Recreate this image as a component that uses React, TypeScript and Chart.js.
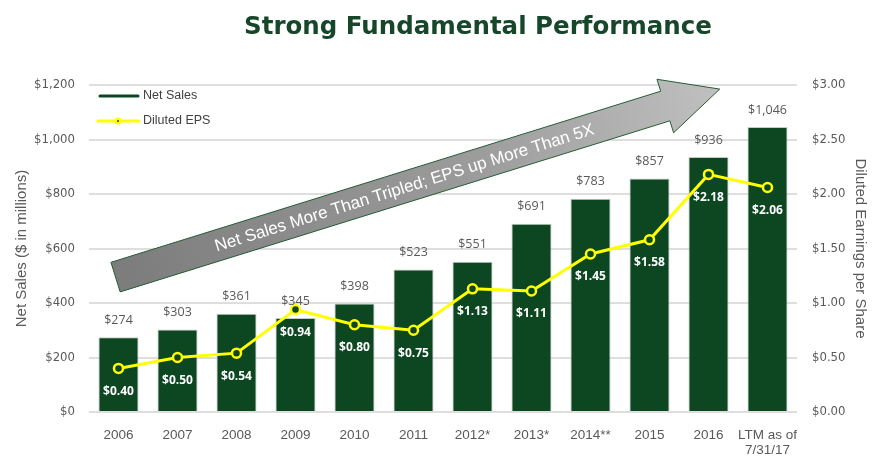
import React, { useEffect, useRef } from "react";
import { Chart, registerables } from "chart.js";

Chart.register(...registerables);

// ---- data ----
const categories: (string | string[])[] = [
  "2006", "2007", "2008", "2009", "2010", "2011",
  "2012*", "2013*", "2014**", "2015", "2016", ["LTM as of", "7/31/17"],
];
const netSales = [274, 303, 361, 345, 398, 523, 551, 691, 783, 857, 936, 1046];
const dilutedEps = [0.4, 0.5, 0.54, 0.94, 0.8, 0.75, 1.13, 1.11, 1.45, 1.58, 2.18, 2.06];
const salesTickValues = [0, 200, 400, 600, 800, 1000, 1200];
const epsTickValues = [0, 0.5, 1, 1.5, 2, 2.5, 3];

const titleText = "Strong Fundamental Performance";
const arrowText = "Net Sales More Than Tripled; EPS up More Than 5X";
// arrow anchors in data units (category index, net sales value)
const arrowTail = { index: -0.05, value: 495 };
const arrowTip = { index: 10.19, value: 1185 };

// ---- styles ----
const BAR_COLOR = "#0c4722";
const LINE_COLOR = "#ffff00";
const GRID_COLOR = "#dedede";
const TEXT_GRAY = "#595959";
const TITLE_COLOR = "#17472a";

const fmtSales = (v: number) => "$" + v.toLocaleString("en-US");
const fmtEps = (v: number) => "$" + v.toFixed(2);

const overlayPlugin = {
  id: "overlay",
  beforeDatasetsDraw(chart: any) {
    const ctx = chart.ctx as CanvasRenderingContext2D;
    const xs = chart.scales.x;
    const ys = chart.scales.y;
    const tx = xs.getPixelForValue(arrowTail.index);
    const ty = ys.getPixelForValue(arrowTail.value);
    const hx = xs.getPixelForValue(arrowTip.index);
    const hy = ys.getPixelForValue(arrowTip.value);
    const dx = hx - tx, dy = hy - ty;
    const L = Math.hypot(dx, dy);
    const ux = dx / L, uy = dy / L;
    const nx = -uy, ny = ux;
    const hw = 15.5, hh = 28, hl = 57;
    const bx = hx - ux * hl, by = hy - uy * hl;
    ctx.save();
    ctx.beginPath();
    ctx.moveTo(tx + nx * hw, ty + ny * hw);
    ctx.lineTo(bx + nx * hw, by + ny * hw);
    ctx.lineTo(bx + nx * hh, by + ny * hh);
    ctx.lineTo(hx, hy);
    ctx.lineTo(bx - nx * hh, by - ny * hh);
    ctx.lineTo(bx - nx * hw, by - ny * hw);
    ctx.lineTo(tx - nx * hw, ty - ny * hw);
    ctx.closePath();
    const g = ctx.createLinearGradient(tx, ty, hx, hy);
    g.addColorStop(0, "#7c7c7c");
    g.addColorStop(0.6, "#9c9c9c");
    g.addColorStop(1, "#c0c0c0");
    ctx.fillStyle = g;
    ctx.fill();
    ctx.lineWidth = 1;
    ctx.strokeStyle = "#245c36";
    ctx.stroke();
    // text
    const t = 0.478;
    ctx.translate(tx + dx * t, ty + dy * t);
    ctx.rotate(Math.atan2(dy, dx));
    ctx.fillStyle = "#ffffff";
    ctx.font = '17px "Liberation Sans", Arial, sans-serif';
    ctx.textAlign = "center";
    ctx.textBaseline = "middle";
    ctx.fillText(arrowText, 0, 1);
    ctx.restore();
  },
  afterDatasetsDraw(chart: any) {
    const ctx = chart.ctx as CanvasRenderingContext2D;
    const barMeta = chart.getDatasetMeta(0);
    const lineMeta = chart.getDatasetMeta(1);
    ctx.save();
    ctx.textAlign = "center";
    ctx.textBaseline = "middle";
    ctx.font = '12.5px "Open Sans", sans-serif';
    ctx.fillStyle = TEXT_GRAY;
    barMeta.data.forEach((el: any, i: number) => {
      ctx.fillText(fmtSales(netSales[i]), el.x, el.y - 17);
    });
    ctx.font = 'bold 12px "Open Sans", sans-serif';
    ctx.fillStyle = "#ffffff";
    lineMeta.data.forEach((el: any, i: number) => {
      ctx.fillText(fmtEps(dilutedEps[i]), el.x, el.y + 23);
    });

    // legend
    const left = chart.chartArea.left;
    const top = chart.chartArea.top;
    ctx.lineCap = "round";
    ctx.strokeStyle = BAR_COLOR;
    ctx.lineWidth = 3;
    ctx.beginPath();
    ctx.moveTo(left + 11, top + 11);
    ctx.lineTo(left + 49, top + 11);
    ctx.stroke();
    ctx.strokeStyle = LINE_COLOR;
    ctx.lineWidth = 3;
    ctx.beginPath();
    ctx.moveTo(left + 9, top + 36);
    ctx.lineTo(left + 50, top + 36);
    ctx.stroke();
    ctx.beginPath();
    ctx.arc(left + 29, top + 36, 3.5, 0, Math.PI * 2);
    ctx.fillStyle = LINE_COLOR;
    ctx.fill();
    ctx.beginPath();
    ctx.arc(left + 29, top + 36, 1, 0, Math.PI * 2);
    ctx.fillStyle = BAR_COLOR;
    ctx.fill();
    ctx.textAlign = "left";
    ctx.fillStyle = "#404040";
    ctx.font = '12.5px "Liberation Sans", Arial, sans-serif';
    ctx.fillText(chart.data.datasets[0].label, left + 54, top + 11);
    ctx.fillText(chart.data.datasets[1].label, left + 54, top + 36);
    ctx.restore();
  },
  afterDraw(chart: any) {
    const ctx = chart.ctx as CanvasRenderingContext2D;
    ctx.save();
    ctx.font = 'bold 24.5px "DejaVu Sans", sans-serif';
    ctx.fillStyle = TITLE_COLOR;
    ctx.textAlign = "center";
    ctx.textBaseline = "middle";
    ctx.fillText(titleText, 478, 28);
    ctx.restore();
  },
};

export default function App() {
  const canvasRef = useRef<HTMLCanvasElement | null>(null);

  useEffect(() => {
    if (!canvasRef.current) return;
    const chart = new Chart(canvasRef.current, {
      type: "bar",
      data: {
        labels: categories as any,
        datasets: [
          {
            type: "bar",
            label: "Net Sales",
            data: netSales,
            yAxisID: "y",
            backgroundColor: BAR_COLOR,
            borderColor: "rgba(190,196,192,0.9)",
            borderWidth: 1,
            barPercentage: 0.68,
            categoryPercentage: 1,
            order: 2,
          },
          {
            type: "line",
            label: "Diluted EPS",
            data: dilutedEps,
            yAxisID: "y1",
            borderColor: LINE_COLOR,
            borderWidth: 3,
            pointRadius: 4.5,
            pointBorderWidth: 2.5,
            pointBackgroundColor: BAR_COLOR,
            pointBorderColor: LINE_COLOR,
            tension: 0,
            order: 1,
          } as any,
        ],
      },
      options: {
        responsive: false,
        animation: false,
        layout: { padding: { top: 85, left: 0, right: 0, bottom: 0 } },
        plugins: {
          legend: { display: false },
          tooltip: { enabled: false },
          title: { display: false },
        },
        scales: {
          x: {
            grid: { display: false },
            border: { display: false },
            ticks: {
              color: TEXT_GRAY,
              font: { family: '"Liberation Sans", Arial, sans-serif', size: 13.5, lineHeight: 1.08 },
              padding: 8,
              maxRotation: 0,
              autoSkip: false,
            },
            afterFit: (s: any) => { s.height = 47; },
          },
          y: {
            position: "left",
            min: 0,
            max: 1200,
            afterBuildTicks: (s: any) => { s.ticks = salesTickValues.map((v) => ({ value: v })); },
            ticks: {
              color: TEXT_GRAY,
              font: { family: '"DejaVu Sans Condensed", "DejaVu Sans", sans-serif', size: 13 },
              padding: 14,
              callback: (v: any) => fmtSales(Number(v)),
            },
            grid: { color: GRID_COLOR, lineWidth: 2, drawTicks: false },
            border: { display: false },
            title: {
              display: true,
              text: "Net Sales ($ in millions)",
              color: TEXT_GRAY,
              font: { family: '"Liberation Sans", Arial, sans-serif', size: 15 },
              padding: { top: 13, bottom: 0 },
            },
            afterFit: (s: any) => { s.width = 89; },
          },
          y1: {
            position: "right",
            min: 0,
            max: 3,
            afterBuildTicks: (s: any) => { s.ticks = epsTickValues.map((v) => ({ value: v })); },
            ticks: {
              color: TEXT_GRAY,
              font: { family: '"DejaVu Sans Condensed", "DejaVu Sans", sans-serif', size: 13 },
              padding: 15,
              callback: (v: any) => fmtEps(Number(v)),
            },
            grid: { display: false, drawTicks: false },
            border: { display: false },
            title: {
              display: true,
              text: "Diluted Earnings per Share",
              color: TEXT_GRAY,
              font: { family: '"Liberation Sans", Arial, sans-serif', size: 15 },
              padding: { top: 20, bottom: 0 },
            },
            afterFit: (s: any) => { s.width = 92; },
          },
        },
      } as any,
      plugins: [overlayPlugin],
    });
    return () => chart.destroy();
  }, []);

  return (
    <div style={{ position: "absolute", left: 0, top: 0, width: 889, height: 459, background: "#fff" }}>
      <canvas ref={canvasRef} width={889} height={459} style={{ display: "block" }} />
    </div>
  );
}
